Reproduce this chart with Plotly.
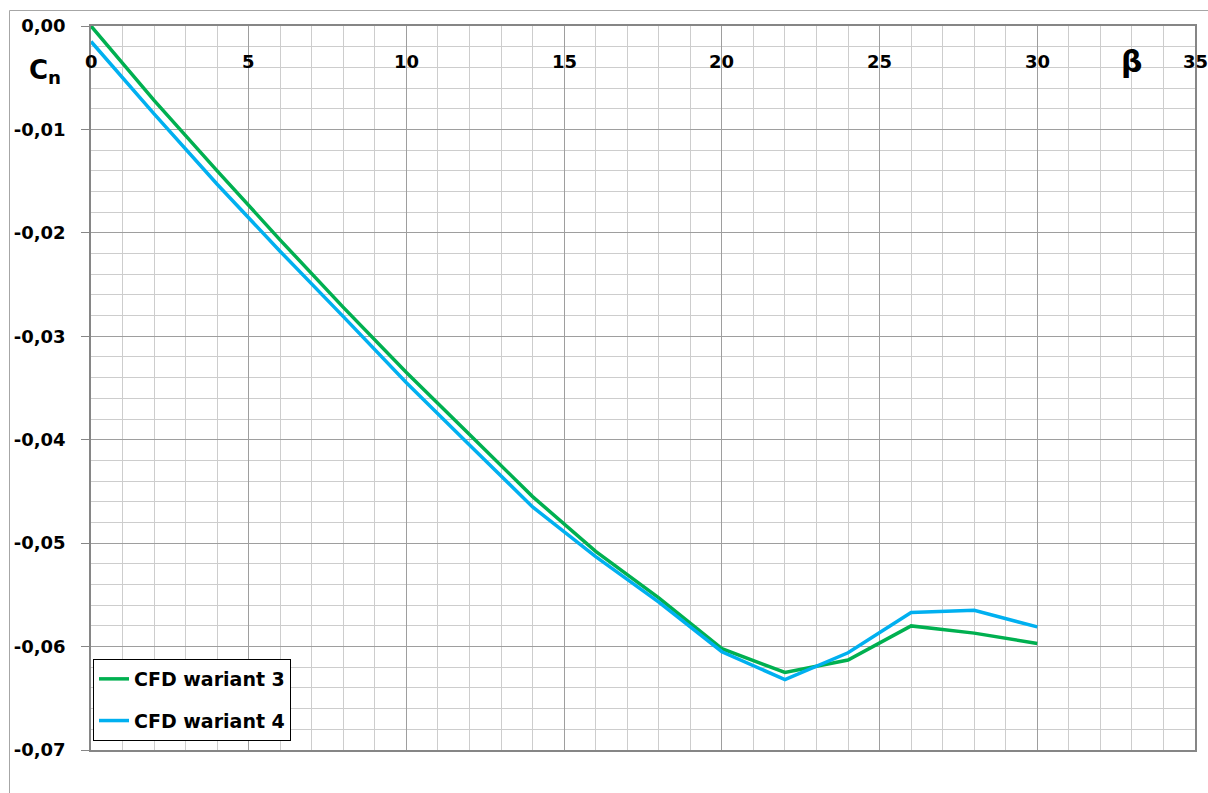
import plotly.graph_objects as go

# Sideslip angle [deg] and yawing-moment coefficient for two CFD variants
beta = [0, 2, 4, 6, 8, 10, 12, 14, 16, 18, 20, 22, 24, 26, 28, 30]
cn_wariant_3 = [0.0, -0.0072, -0.0140, -0.0207, -0.0272, -0.0335, -0.0395, -0.0455,
                -0.0508, -0.0553, -0.0602, -0.0625, -0.0613, -0.0580, -0.0587, -0.0597]
cn_wariant_4 = [-0.0015, -0.0085, -0.0153, -0.0218, -0.0281, -0.0345, -0.0405, -0.0465,
                -0.0513, -0.0557, -0.0605, -0.0632, -0.0606, -0.0567, -0.0565, -0.0581]

series_names = ["CFD wariant 3", "CFD wariant 4"]
series_colors = ["#00B050", "#00B0F0"]

x_ticks = [0, 5, 10, 15, 20, 25, 30, 35]
y_ticks = [0.0, -0.01, -0.02, -0.03, -0.04, -0.05, -0.06, -0.07]
y_ticktext = [f"{abs(v):.2f}".replace(".", ",") if v == 0 else f"{v:.2f}".replace(".", ",")
              for v in y_ticks]

W, H = 1208, 793
ML, MR, MT, MB = 91, 13, 26, 43
PW, PH = W - ML - MR, H - MT - MB


def px_x(p):
    return (p - ML) / PW


def px_y(p):
    return 1 - (p - MT) / PH


FONT = "DejaVu Sans"
fig = go.Figure()
for i, (name, ys) in enumerate(zip(series_names, [cn_wariant_3, cn_wariant_4])):
    fig.add_trace(go.Scatter(
        x=beta, y=ys, mode="lines", name=name, legendgroup=f"g{i}",
        line=dict(color=series_colors[i], width=3.5),
    ))

MAJOR = "#9e9e9e"
MINOR = "#cdcdcd"
AXIS = "#868686"

# x-axis tick labels sit just below the top axis line, inside the plot area
x_labels = [
    dict(text=f"<b>{t}</b>", xref="x", yref="paper", x=t, y=px_y(62),
         xanchor="center", yanchor="middle", showarrow=False,
         font=dict(family=FONT, size=18, color="black"))
    for t in x_ticks
]

fig.update_layout(
    width=W, height=H,
    margin=dict(l=ML, r=MR, t=MT, b=MB, autoexpand=False),
    paper_bgcolor="white", plot_bgcolor="white",
    font=dict(family=FONT, color="black"),
    showlegend=True,
    legend=dict(
        x=px_x(93), y=px_y(659), xanchor="left", yanchor="top",
        bgcolor="white", bordercolor="black", borderwidth=1,
        font=dict(family=FONT, size=19, weight="bold", color="black"),
        tracegroupgap=14, itemwidth=30,
    ),
    xaxis=dict(
        range=[0, 35], side="top", tickvals=x_ticks, showticklabels=False,
        showgrid=True, gridcolor=MAJOR, gridwidth=1,
        minor=dict(dtick=1, showgrid=True, gridcolor=MINOR, gridwidth=1),
        showline=True, linecolor=AXIS, linewidth=1.5, mirror=True,
        zeroline=False, ticks="", automargin=False, fixedrange=True,
    ),
    yaxis=dict(
        range=[-0.07, 0], tickvals=y_ticks, ticktext=y_ticktext,
        tickfont=dict(family=FONT, size=18, weight="bold", color="black"),
        ticks="outside", ticklen=8, tickcolor=AXIS, ticklabelstandoff=12,
        showgrid=True, gridcolor=MAJOR, gridwidth=1,
        minor=dict(dtick=0.002, showgrid=True, gridcolor=MINOR, gridwidth=1),
        showline=True, linecolor=AXIS, linewidth=1.5, mirror=True,
        zeroline=False, automargin=False, fixedrange=True,
    ),
    annotations=x_labels + [
        dict(text="<b>C<sub>n</sub></b>", xref="paper", yref="paper",
             x=px_x(27), y=px_y(71), xanchor="left", yanchor="middle",
             showarrow=False, font=dict(family=FONT, size=26, color="black")),
        dict(text="<b>β</b>", xref="paper", yref="paper",
             x=px_x(1131), y=px_y(62), xanchor="center", yanchor="middle",
             showarrow=False, font=dict(family=FONT, size=30, color="black")),
    ],
    shapes=[
        dict(type="rect", xref="paper", yref="paper", layer="below",
             x0=px_x(9.5), y0=px_y(H + 20), x1=px_x(W + 20), y1=px_y(10.5),
             line=dict(color="#a6a6a6", width=1), fillcolor="rgba(0,0,0,0)"),
    ],
)

fig.write_html("out.html")
